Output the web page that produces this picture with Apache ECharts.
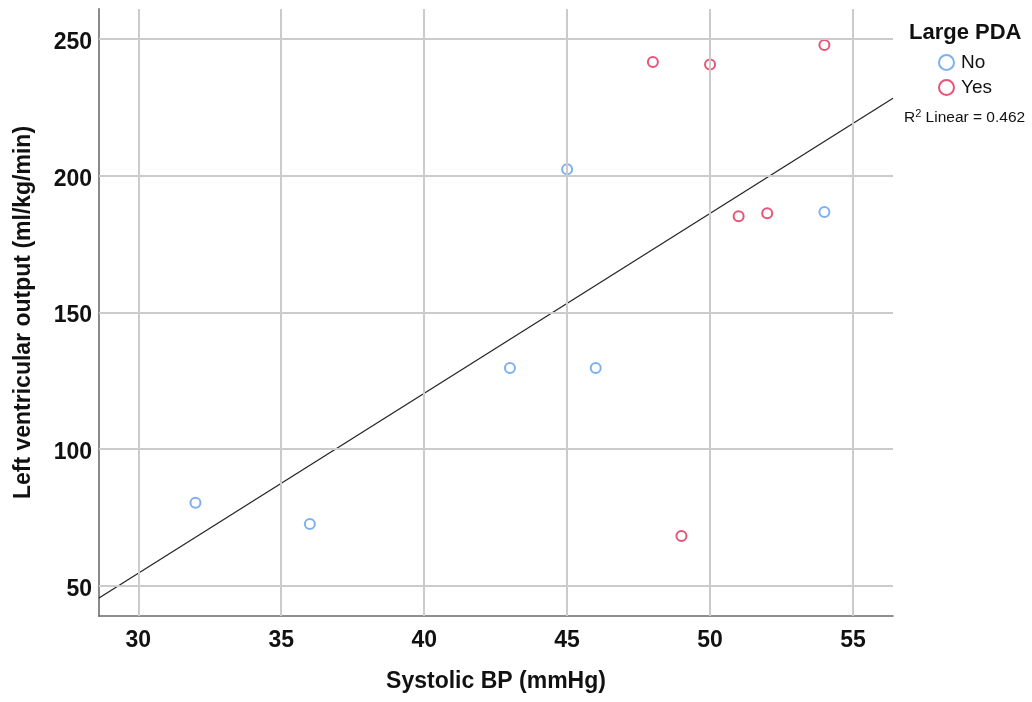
<!DOCTYPE html>
<html>
<head>
<meta charset="utf-8">
<script src="https://cdn.jsdelivr.net/npm/echarts@6/dist/echarts.min.js"></script>
<style>
  html, body { margin: 0; padding: 0; background: #fff; }
  #chart { width: 1032px; height: 702px; }
</style>
</head>
<body>
<div id="chart"></div>
<script>
// Systolic BP (mmHg) vs left ventricular output, grouped by large PDA
const noBP  = [32, 36, 43, 45, 46, 54];
const noLVO = [80.3, 72.6, 129.6, 202.4, 129.6, 186.7];
const yesBP  = [48, 50, 54, 49, 51, 52];
const yesLVO = [241.6, 240.7, 247.8, 68.2, 185.2, 186.3];

const xTicks = [30, 35, 40, 45, 50, 55];
const yTicks = [50, 100, 150, 200, 250];
const xRange = [28.625, 56.4];
const yRange = [38.9, 261];
const r2Label = '0.462';

// least-squares fit over all points
const allX = noBP.concat(yesBP);
const allY = noLVO.concat(yesLVO);
const n = allX.length;
const mx = allX.reduce((a, b) => a + b, 0) / n;
const my = allY.reduce((a, b) => a + b, 0) / n;
let sxx = 0, sxy = 0;
for (let i = 0; i < n; i++) {
  sxx += (allX[i] - mx) * (allX[i] - mx);
  sxy += (allX[i] - mx) * (allY[i] - my);
}
const slope = sxy / sxx;
const intercept = my - slope * mx;
const fitLine = xRange.map(x => [x, intercept + slope * x]);

const FONT = '"Liberation Sans", Arial, sans-serif';
const BLUE = '#5c9cec';
const RED = '#e02a55';
const INK = '#111';

const chart = echarts.init(document.getElementById('chart'));
chart.setOption({
  animation: false,
  backgroundColor: '#fff',
  grid: { left: 99, top: 9, right: 139, bottom: 86, containLabel: false },
  xAxis: {
    type: 'value',
    min: xRange[0], max: xRange[1],
    name: 'Systolic BP (mmHg)',
    nameLocation: 'middle', nameGap: 54, nameMoveOverlap: false,
    nameTextStyle: { fontFamily: FONT, fontSize: 23, fontWeight: 'bold', color: INK },
    axisLine: { show: true, onZero: false, lineStyle: { color: '#6a6a6a', width: 1.5 } },
    axisTick: { show: false },
    splitLine: { show: false },
    axisLabel: {
      customValues: xTicks, fontFamily: FONT, fontSize: 23, fontWeight: 'bold', color: INK, margin: 13
    }
  },
  yAxis: {
    type: 'value',
    min: yRange[0], max: yRange[1],
    name: 'Left ventricular output (ml/kg/min)',
    nameLocation: 'middle', nameGap: 64, nameMoveOverlap: false,
    nameTextStyle: { fontFamily: FONT, fontSize: 23, fontWeight: 'bold', color: INK },
    axisLine: { show: true, onZero: false, lineStyle: { color: '#8a8a8a', width: 2 } },
    axisTick: { show: false },
    splitLine: { show: false },
    axisLabel: {
      customValues: yTicks, fontFamily: FONT, fontSize: 23, fontWeight: 'bold', color: INK,
      margin: 7, verticalAlign: 'top', lineHeight: 7
    }
  },
  title: {
    text: 'Large PDA', left: 909, top: 22, padding: 0,
    textStyle: { fontFamily: FONT, fontSize: 22, fontWeight: 'bold', color: INK }
  },
  legend: {
    orient: 'vertical', left: 938, top: 52, padding: 0,
    itemWidth: 15, itemHeight: 15, itemGap: 4,
    icon: 'emptyCircle',
    data: ['No', 'Yes'],
    textStyle: { fontFamily: FONT, fontSize: 19, color: INK, lineHeight: 15, padding: [6, 0, 0, 2] },
    itemStyle: { borderWidth: 1.5 }
  },
  graphic: [{
    type: 'text', left: 904, top: 108,
    style: {
      text: '{b|R}{s|2}{b| Linear = ' + r2Label + '}',
      rich: {
        b: { fontFamily: FONT, fontSize: 15.5, fill: INK, verticalAlign: 'bottom' },
        s: { fontFamily: FONT, fontSize: 11, fill: INK, verticalAlign: 'top', padding: [0, 0, 7, 0] }
      }
    }
  }],
  series: [
    {
      // reference grid
      type: 'line', data: [], silent: true, z: 1,
      markLine: {
        silent: true, symbol: 'none', animation: false,
        label: { show: false },
        lineStyle: { color: '#cbcbcb', width: 2, type: 'solid' },
        data: xTicks.map(v => ({ xAxis: v })).concat(yTicks.map(v => ({ yAxis: v })))
      }
    },
    {
      name: 'Fit', type: 'line', data: fitLine, z: 3,
      symbol: 'none', silent: true,
      lineStyle: { color: '#262626', width: 1.3 }
    },
    {
      name: 'No', type: 'scatter', z: 4,
      data: noBP.map((x, i) => [x, noLVO[i]]),
      symbol: 'emptyCircle', symbolSize: 10,
      itemStyle: { color: BLUE, borderColor: BLUE, borderWidth: 1.6 }
    },
    {
      name: 'Yes', type: 'scatter', z: 4,
      data: yesBP.map((x, i) => [x, yesLVO[i]]),
      symbol: 'emptyCircle', symbolSize: 10,
      itemStyle: { color: RED, borderColor: RED, borderWidth: 1.6 }
    }
  ]
});
</script>
</body>
</html>
